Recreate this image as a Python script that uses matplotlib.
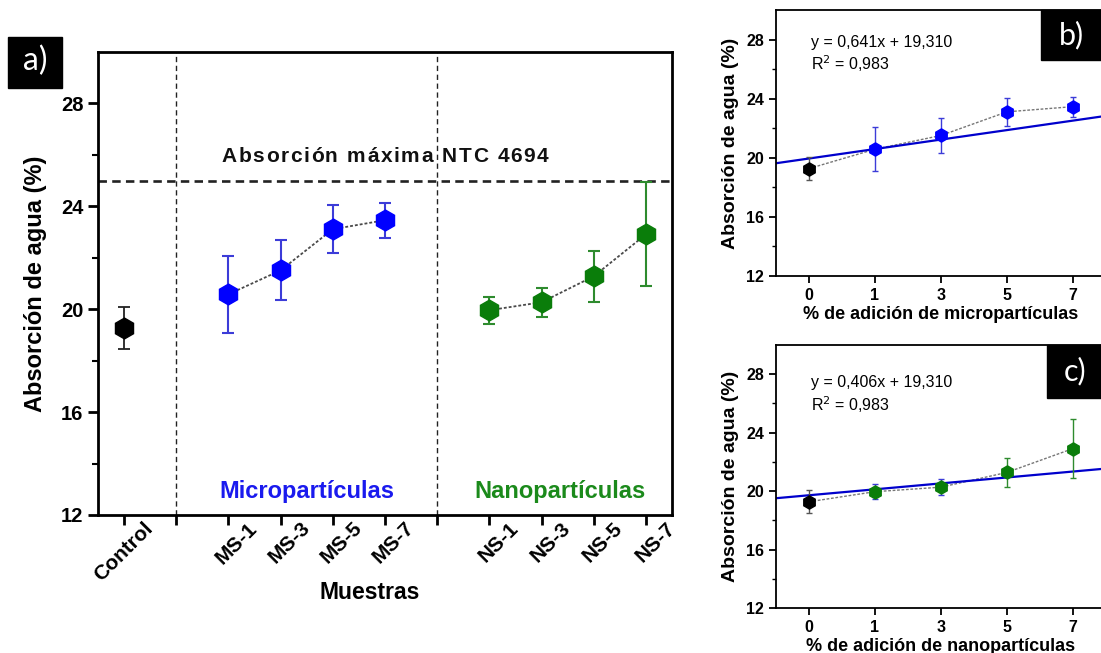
import numpy as np
import matplotlib
matplotlib.use("Agg")
import matplotlib.pyplot as plt
from matplotlib.patches import Rectangle
from matplotlib.ticker import FixedLocator
from matplotlib.font_manager import FontProperties, findfont, get_font
from matplotlib.transforms import offset_copy, ScaledTranslation

plt.rcParams["font.family"] = ["Liberation Sans", "DejaVu Sans"]

# ---- data -------------------------------------------------------------
control_label = "Control"
control_mean = 19.27
control_err = 0.80

ms_labels = ["MS-1", "MS-3", "MS-5", "MS-7"]
ms_mean = [20.58, 21.51, 23.11, 23.46]
ms_err = [1.50, 1.17, 0.93, 0.68]

ns_labels = ["NS-1", "NS-3", "NS-5", "NS-7"]
ns_mean = [19.96, 20.27, 21.28, 22.91]
ns_err = [0.52, 0.56, 1.00, 2.02]

addition_pct = ["0", "1", "3", "5", "7"]
ntc_limit = 25.0

fit_micro_slope, fit_micro_icpt, fit_micro_r2 = 0.641, 19.310, 0.983
fit_nano_slope, fit_nano_icpt, fit_nano_r2 = 0.406, 19.310, 0.983

# ---- colours ----------------------------------------------------------
BLUE = "#0000ff"
BLUE_ERR = "#3c3cd8"
GREEN = "#0a7d0a"
GREEN_ERR = "#2e8b2e"
TXT_BLUE = "#1a1aee"
TXT_GREEN = "#1b8a1b"
FIT = "#0000cc"

fig = plt.figure(figsize=(11.01, 6.53), dpi=100)


def spaced_text(ax, x, y, s, size, weight, spacing_pt, color="k"):
    """Draw a string centred at (x, y) with extra tracking between letters."""
    fp = FontProperties(family="Liberation Sans", weight=weight, size=size)
    font = get_font(findfont(fp))
    font.set_size(size, 72)
    adv = [font.load_char(ord(c)).linearHoriAdvance / 65536.0 for c in s]
    total = sum(adv) + spacing_pt * (len(s) - 1)
    pos = -total / 2.0
    for c, a in zip(s, adv):
        tr = offset_copy(ax.transData, fig=ax.figure, x=pos, y=0, units="points")
        ax.text(x, y, c, transform=tr, fontproperties=fp, color=color,
                ha="left", va="center")
        pos += a + spacing_pt


# ---- panel a -----------------------------------------------------------
ax = fig.add_axes([0.089, 0.2114, 0.5214, 0.709])
pos_ctrl = [1]
pos_ms = np.arange(3, 3 + len(ms_labels))
pos_ns = np.arange(8, 8 + len(ns_labels))
separators = [2, 7]

ax.axhline(ntc_limit, color="#222222", lw=1.9, ls=(0, (3.2, 2.0)), zorder=1)
for s in separators:
    ax.axvline(s, color="#222222", lw=1.0, ls=(0, (3.8, 2.6)), zorder=1)

ax.plot(pos_ms, ms_mean, color="#4a4a4a", lw=1.3, ls=(0, (1.6, 1.1)), zorder=2)
ax.plot(pos_ns, ns_mean, color="#4a4a4a", lw=1.3, ls=(0, (1.6, 1.1)), zorder=2)

ax.errorbar(pos_ctrl, [control_mean], yerr=[control_err], fmt="h", ms=15,
            color="black", ecolor="#222222", elinewidth=1.3, capsize=4.5,
            capthick=1.3, zorder=3)
ax.errorbar(pos_ms, ms_mean, yerr=ms_err, fmt="h", ms=15, color=BLUE,
            ecolor=BLUE_ERR, elinewidth=1.5, capsize=4.5, capthick=1.5, zorder=3)
ax.errorbar(pos_ns, ns_mean, yerr=ns_err, fmt="h", ms=15, color=GREEN,
            ecolor=GREEN_ERR, elinewidth=1.5, capsize=4.5, capthick=1.5, zorder=3)

ax.set_xlim(0.5, 11.5)
ax.set_ylim(12, 30)
ax.yaxis.set_major_locator(FixedLocator([12, 16, 20, 24, 28]))
ax.yaxis.set_minor_locator(FixedLocator([14, 18, 22, 26]))
tick_pos = list(pos_ctrl) + separators[:1] + list(pos_ms) + separators[1:] + list(pos_ns)
tick_lab = [control_label, ""] + ms_labels + [""] + ns_labels
ax.set_xticks(tick_pos)
ax.tick_params(axis="y", which="major", direction="out", length=7, width=2,
               labelsize=14.5)
ax.tick_params(axis="x", which="major", direction="out", length=7, width=2,
               labelsize=15, pad=4)
ax.tick_params(axis="y", which="minor", direction="out", length=4, width=1.5)
ax.set_xticklabels(tick_lab, rotation=45, ha="right", va="center",
                   rotation_mode="anchor", fontsize=15, fontweight="bold")
for lab in ax.get_yticklabels():
    lab.set_fontweight("bold")
# slanted sample names sit up and to the right of their tick
shift = ScaledTranslation(0.26, 0.05, fig.dpi_scale_trans)
for lab in ax.get_xticklabels():
    lab.set_transform(lab.get_transform() + shift)
for sp in ax.spines.values():
    sp.set_linewidth(2)

ax.set_ylabel("Absorción de agua (%)", fontsize=17, fontweight="bold", labelpad=10)
ax.set_xlabel("Muestras", fontsize=16.5, fontweight="bold", labelpad=0)
ax.xaxis.set_label_coords(0.474, -0.143)

spaced_text(ax, 6.0, 25.95, "Absorción máxima NTC 4694", 15, "bold", 1.2,
            color="#111111")
ax.text(4.5, 12.9, "Micropartículas", color=TXT_BLUE, fontsize=17,
        fontweight="bold", ha="center", va="center")
ax.text(9.35, 12.9, "Nanopartículas", color=TXT_GREEN, fontsize=17,
        fontweight="bold", ha="center", va="center")

fig.patches.append(Rectangle((0.0073, 0.8652), 0.049, 0.078,
                             transform=fig.transFigure, color="black"))
fig.text(0.0073 + 0.0245, 0.8652 + 0.041, "a)", color="white", fontsize=23,
         family="Lato", ha="center", va="center")


# ---- panels b and c ----------------------------------------------------
def side_panel(rect, means, errs, mcolors, ecolors, slope, icpt, r2, xlabel,
               eq_y, r2_y):
    bx = fig.add_axes(rect)
    xp = np.arange(len(addition_pct))
    bx.plot(xp, means, color="#777777", lw=1.0, ls=(0, (2.0, 1.2)), zorder=2)
    xl = np.array([-0.5, 4.5])
    bx.plot(xl, slope * (xl + 1) + icpt, color=FIT, lw=1.6, zorder=2.5)
    for x, m, e, mc, ec in zip(xp, means, errs, mcolors, ecolors):
        bx.errorbar([x], [m], yerr=[e], fmt="h", ms=9.5, color=mc, ecolor=ec,
                    elinewidth=1.0, capsize=2.5, capthick=1.0, zorder=3)
    bx.set_xlim(-0.5, 4.5)
    bx.set_ylim(12, 30)
    bx.set_xticks(xp)
    bx.set_xticklabels(addition_pct)
    bx.yaxis.set_major_locator(FixedLocator([12, 16, 20, 24, 28]))
    bx.yaxis.set_minor_locator(FixedLocator([14, 18, 22, 26]))
    bx.tick_params(axis="both", which="major", direction="out", length=5,
                   width=1.3, labelsize=11.5)
    bx.tick_params(axis="y", which="minor", direction="out", length=3, width=1.0)
    for lab in bx.get_xticklabels() + bx.get_yticklabels():
        lab.set_fontweight("bold")
    for sp in bx.spines.values():
        sp.set_linewidth(1.3)
    bx.set_ylabel("Absorción de agua (%)", fontsize=14, fontweight="bold",
                  labelpad=5)
    bx.set_xlabel(xlabel, fontsize=13, fontweight="bold", labelpad=2)
    bx.text(0.105, eq_y, f"y = {slope:.3f}x + {icpt:.3f}".replace(".", ","),
            transform=bx.transAxes, fontsize=11.5, ha="left", va="center")
    bx.text(0.105, r2_y, "R$^2$ = " + f"{r2:.3f}".replace(".", ","),
            transform=bx.transAxes, fontsize=11.5, ha="left", va="center")
    return bx


side_panel([0.7048, 0.5773, 0.2997, 0.4074],
           [control_mean] + ms_mean, [control_err] + ms_err,
           ["black"] + [BLUE] * 4, ["#555555"] + [BLUE_ERR] * 4,
           fit_micro_slope, fit_micro_icpt, fit_micro_r2,
           "% de adición de micropartículas", 0.876, 0.798)
side_panel([0.7048, 0.0689, 0.2997, 0.4028],
           [control_mean] + ns_mean, [control_err] + ns_err,
           ["black"] + [GREEN] * 4,
           ["#555555", BLUE_ERR, BLUE_ERR, GREEN_ERR, GREEN_ERR],
           fit_nano_slope, fit_nano_icpt, fit_nano_r2,
           "% de adición de nanopartículas", 0.856, 0.772)

fig.patches.append(Rectangle((0.9455, 0.908), 0.06, 0.0767,
                             transform=fig.transFigure, color="black", zorder=5))
fig.text(0.9455 + 0.028, 0.908 + 0.039, "b)", color="white", fontsize=22,
         family="Lato", ha="center", va="center", zorder=6)
fig.patches.append(Rectangle((0.951, 0.3905), 0.06, 0.0812,
                             transform=fig.transFigure, color="black", zorder=5))
fig.text(0.951 + 0.025, 0.3905 + 0.041, "c)", color="white", fontsize=22,
         family="Lato", ha="center", va="center", zorder=6)

fig.savefig("out.png", dpi=100)
